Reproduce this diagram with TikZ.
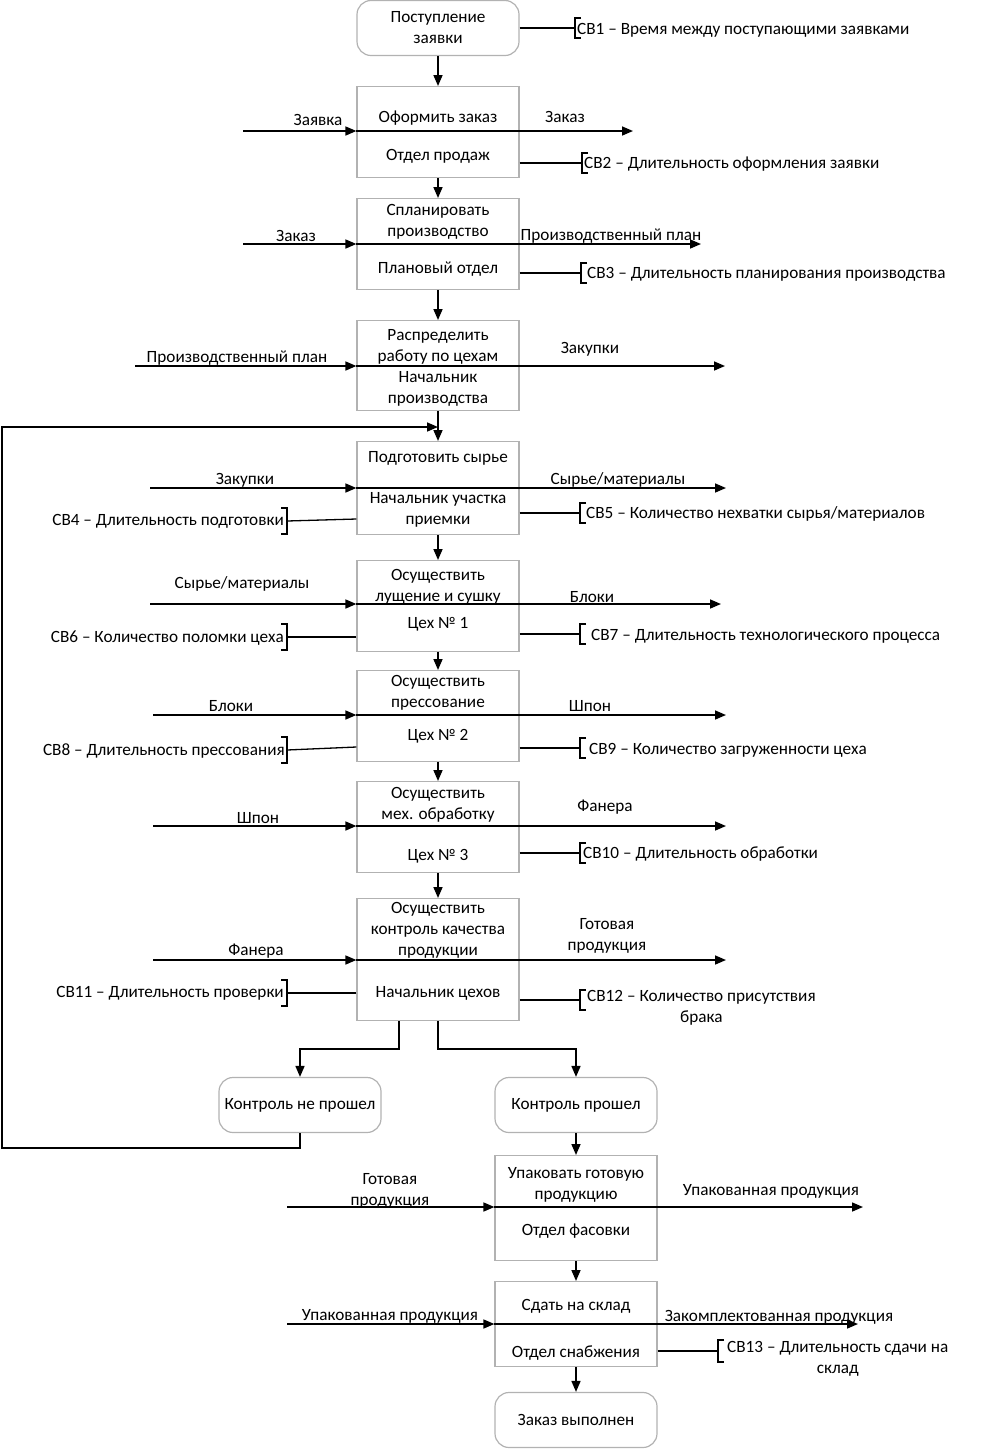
\documentclass[tikz,border=0pt]{standalone}
\usepackage{fontspec}
\setmainfont{Carlito}
\usetikzlibrary{arrows.meta, positioning}

\begin{document}
\begin{tikzpicture}[x=1pt, y=-1pt,
  box/.style={rectangle, draw=black!30, line width=1.2pt, minimum width=162pt, inner sep=0pt, anchor=north},
  event/.style={box, rounded corners=14pt, minimum height=55pt, anchor=center},
  txt/.style={font=\fontsize{17.2}{21}\selectfont, align=center, inner sep=1pt},
  arr/.style={line width=1.6pt, -{Triangle[length=11pt, width=9pt]}},
  link/.style={line width=1.3pt},
  brk/.style={line width=1.6pt},
]
  \useasboundingbox (0,0) rectangle (992,1452);

  % events
  \node[event, txt] (start) at (438,28) {Поступление\\заявки};
  \node[event, txt] (fail) at (300,1105) {Контроль не прошел};
  \node[event, txt] (pass) at (576,1105) {Контроль прошел};
  \node[event, txt] (done) at (576,1420) {Заказ выполнен};

  % functions
  \node[box, minimum height=91pt] (order) at (438,86) {};
  \node[box, minimum height=91pt] (plan) at (438,198) {};
  \node[box, minimum height=90pt] (distrib) at (438,320) {};
  \node[box, minimum height=93pt] (prep) at (438,441) {};
  \node[box, minimum height=91pt] (peel) at (438,560) {};
  \node[box, minimum height=91pt] (press) at (438,670) {};
  \node[box, minimum height=91pt] (mach) at (438,781) {};
  \node[box, minimum height=122pt] (qc) at (438,898) {};
  \node[box, minimum height=105pt] (pack) at (576,1155) {};
  \node[box, minimum height=85pt] (store) at (576,1281) {};

  \node[txt] at (438,118) {Оформить заказ};
  \node[txt] at (438,156) {Отдел продаж};
  \node[txt] at (438,222) {Спланировать\\производство};
  \node[txt] at (438,269) {Плановый отдел};
  \node[txt] at (438,347) {Распределить\\работу по цехам};
  \node[txt] at (438,389) {Начальник\\производства};
  \node[txt] at (438,458) {Подготовить сырье};
  \node[txt] at (438,510) {Начальник участка\\приемки};
  \node[txt] at (438,587) {Осуществить\\лущение и сушку};
  \node[txt] at (438,624) {Цех № 1};
  \node[txt] at (438,693) {Осуществить\\прессование};
  \node[txt] at (438,736) {Цех № 2};
  \node[txt] at (438,805) {Осуществить\\мех. обработку};
  \node[txt] at (438,856) {Цех № 3};
  \node[txt] at (438,930) {Осуществить\\контроль качества\\продукции};
  \node[txt] at (438,993) {Начальник цехов};
  \node[txt] at (576,1185) {Упаковать готовую\\продукцию};
  \node[txt] at (576,1231) {Отдел фасовки};
  \node[txt] at (576,1306) {Сдать на склад};
  \node[txt] at (576,1353) {Отдел снабжения};

  % sequence
  \draw[arr] (start) -- (order);
  \draw[arr] (order) -- (plan);
  \draw[arr] (plan) -- (distrib);
  \draw[arr] (distrib) -- (prep);
  \draw[arr] (prep) -- (peel);
  \draw[arr] (peel) -- (press);
  \draw[arr] (press) -- (mach);
  \draw[arr] (mach) -- (qc);
  \draw[arr] ([xshift=-39pt]qc.south) -- ++(0,28) -| (fail);
  \draw[arr] (qc.south) -- ++(0,28) -| (pass);
  \draw[arr] (pass) -- (pack);
  \draw[arr] (pack) -- (store);
  \draw[arr] (store) -- (done);

  % return loop
  \coordinate (loop) at (2,1148);
  \coordinate (back) at (2,427);
  \draw[arr] (fail.south) |- (loop) -- (back) -- (back -| prep.north);

  % inputs and outputs
  \coordinate (order-in) at (243,131);  \coordinate (order-out) at (633,131);
  \coordinate (plan-in) at (243,244);   \coordinate (plan-out) at (701,244);
  \coordinate (distrib-in) at (135,366); \coordinate (distrib-out) at (725,366);
  \coordinate (prep-in) at (150,488);   \coordinate (prep-out) at (726,488);
  \coordinate (peel-in) at (150,604);   \coordinate (peel-out) at (721,604);
  \coordinate (press-in) at (153,715);  \coordinate (press-out) at (726,715);
  \coordinate (mach-in) at (153,826);   \coordinate (mach-out) at (726,826);
  \coordinate (qc-in) at (153,960);     \coordinate (qc-out) at (726,960);
  \coordinate (pack-in) at (287,1207);  \coordinate (pack-out) at (863,1207);
  \coordinate (store-in) at (287,1324); \coordinate (store-out) at (858,1324);

  \draw[arr] (order-in) -- (order-in -| order.west);
  \draw[arr] (order-in -| order.west) -- (order-out);
  \draw[arr] (plan-in) -- (plan-in -| plan.west);
  \draw[arr] (plan-in -| plan.west) -- (plan-out);
  \draw[arr] (distrib-in) -- (distrib-in -| distrib.west);
  \draw[arr] (distrib-in -| distrib.west) -- (distrib-out);
  \draw[arr] (prep-in) -- (prep-in -| prep.west);
  \draw[arr] (prep-in -| prep.west) -- (prep-out);
  \draw[arr] (peel-in) -- (peel-in -| peel.west);
  \draw[arr] (peel-in -| peel.west) -- (peel-out);
  \draw[arr] (press-in) -- (press-in -| press.west);
  \draw[arr] (press-in -| press.west) -- (press-out);
  \draw[arr] (mach-in) -- (mach-in -| mach.west);
  \draw[arr] (mach-in -| mach.west) -- (mach-out);
  \draw[arr] (qc-in) -- (qc-in -| qc.west);
  \draw[arr] (qc-in -| qc.west) -- (qc-out);
  \draw[arr] (pack-in) -- (pack-in -| pack.west);
  \draw[arr] (pack-in -| pack.west) -- (pack-out);
  \draw[arr] (store-in) -- (store-in -| store.west);
  \draw[arr] (store-in -| store.west) -- (store-out);

  \node[txt] at (318,120) {Заявка};
  \node[txt] at (565,117) {Заказ};
  \node[txt] at (296,236) {Заказ};
  \node[txt] at (611,236) {Производственный план};
  \node[txt] at (237,358) {Производственный план};
  \node[txt] at (590,349) {Закупки};
  \node[txt] at (245,480) {Закупки};
  \node[txt] at (618,480) {Сырье/материалы};
  \node[txt] at (242,584) {Сырье/материалы};
  \node[txt] at (592,597) {Блоки};
  \node[txt] at (231,706) {Блоки};
  \node[txt] at (590,706) {Шпон};
  \node[txt] at (258,818) {Шпон};
  \node[txt] at (605,807) {Фанера};
  \node[txt] at (256,951) {Фанера};
  \node[txt] at (607,936) {Готовая\\продукция};
  \node[txt] at (390,1191) {Готовая\\продукция};
  \node[txt] at (771,1191) {Упакованная продукция};
  \node[txt] at (390,1316) {Упакованная продукция};
  \node[txt] at (779,1317) {Закомплектованная продукция};

  % indicators, right side
  \coordinate (cb1) at (575,28);
  \coordinate (cb2) at (582,163);
  \coordinate (cb3) at (581,273);
  \coordinate (cb5) at (580,513);
  \coordinate (cb7) at (580,634);
  \coordinate (cb9) at (580,748);
  \coordinate (cb10) at (580,853);
  \coordinate (cb12) at (580,1000);
  \coordinate (cb13) at (718,1351);

  \draw[link] (start) -- (cb1);
  \draw[link] (cb2 -| order.east) -- (cb2);
  \draw[link] (cb3 -| plan.east) -- (cb3);
  \draw[link] (cb5 -| prep.east) -- (cb5);
  \draw[link] (cb7 -| peel.east) -- (cb7);
  \draw[link] (cb9 -| press.east) -- (cb9);
  \draw[link] (cb10 -| mach.east) -- (cb10);
  \draw[link] (cb12 -| qc.east) -- (cb12);
  \draw[link] (cb13 -| store.east) -- (cb13);

  \draw[brk] ([shift={(6,-10)}]cb1) -- ++(-6,0) -- ++(0,20) -- ++(6,0);
  \draw[brk] ([shift={(6,-10)}]cb2) -- ++(-6,0) -- ++(0,20) -- ++(6,0);
  \draw[brk] ([shift={(6,-10)}]cb3) -- ++(-6,0) -- ++(0,20) -- ++(6,0);
  \draw[brk] ([shift={(6,-10)}]cb5) -- ++(-6,0) -- ++(0,20) -- ++(6,0);
  \draw[brk] ([shift={(6,-10)}]cb7) -- ++(-6,0) -- ++(0,20) -- ++(6,0);
  \draw[brk] ([shift={(6,-10)}]cb9) -- ++(-6,0) -- ++(0,20) -- ++(6,0);
  \draw[brk] ([shift={(6,-10)}]cb10) -- ++(-6,0) -- ++(0,20) -- ++(6,0);
  \draw[brk] ([shift={(6,-10)}]cb12) -- ++(-6,0) -- ++(0,20) -- ++(6,0);
  \draw[brk] ([shift={(6,-11)}]cb13) -- ++(-6,0) -- ++(0,22) -- ++(6,0);

  \node[txt, anchor=west] at ([shift={(1,2)}]cb1) {СВ1 – Время между поступающими заявками};
  \node[txt, anchor=west] at ([shift={(1,1)}]cb2) {СВ2 – Длительность оформления заявки};
  \node[txt, anchor=west] at ([shift={(5,1)}]cb3) {СВ3 – Длительность планирования производства};
  \node[txt, anchor=west] at ([shift={(5,1)}]cb5) {СВ5 – Количество нехватки сырья/материалов};
  \node[txt, anchor=west] at ([shift={(10,2)}]cb7) {СВ7 – Длительность технологического процесса};
  \node[txt, anchor=west] at ([shift={(8,2)}]cb9) {СВ9 – Количество загруженности цеха};
  \node[txt, anchor=west] at ([shift={(2,1)}]cb10) {СВ10 – Длительность обработки};
  \node[txt, anchor=north west] at ([shift={(6,-11)}]cb12) {СВ12 – Количество присутствия\\брака};
  \node[txt, anchor=north west] at ([shift={(8,-11)}]cb13) {СВ13 – Длительность сдачи на\\склад};

  % indicators, left side
  \coordinate (cb4) at (287,521);
  \coordinate (cb6) at (287,637);
  \coordinate (cb8) at (287,750);
  \coordinate (cb11) at (287,993);

  \draw[link] (prep.west |- 0,519) -- (cb4);
  \draw[link] (cb6 -| peel.west) -- (cb6);
  \draw[link] (press.west |- 0,747) -- (cb8);
  \draw[link] (cb11 -| qc.west) -- (cb11);

  \draw[brk] ([shift={(-6,-13)}]cb4) -- ++(6,0) -- ++(0,26) -- ++(-6,0);
  \draw[brk] ([shift={(-6,-13)}]cb6) -- ++(6,0) -- ++(0,26) -- ++(-6,0);
  \draw[brk] ([shift={(-6,-13)}]cb8) -- ++(6,0) -- ++(0,26) -- ++(-6,0);
  \draw[brk] ([shift={(-6,-13)}]cb11) -- ++(6,0) -- ++(0,26) -- ++(-6,0);

  \node[txt, anchor=east] at ([shift={(-2,0)}]cb4) {СВ4 – Длительность подготовки};
  \node[txt, anchor=east] at ([shift={(-2,1)}]cb6) {СВ6 – Количество поломки цеха};
  \node[txt, anchor=east] at ([shift={(-1,1)}]cb8) {СВ8 – Длительность прессования};
  \node[txt, anchor=east] at ([shift={(-2,0)}]cb11) {СВ11 – Длительность проверки};
\end{tikzpicture}
\end{document}
